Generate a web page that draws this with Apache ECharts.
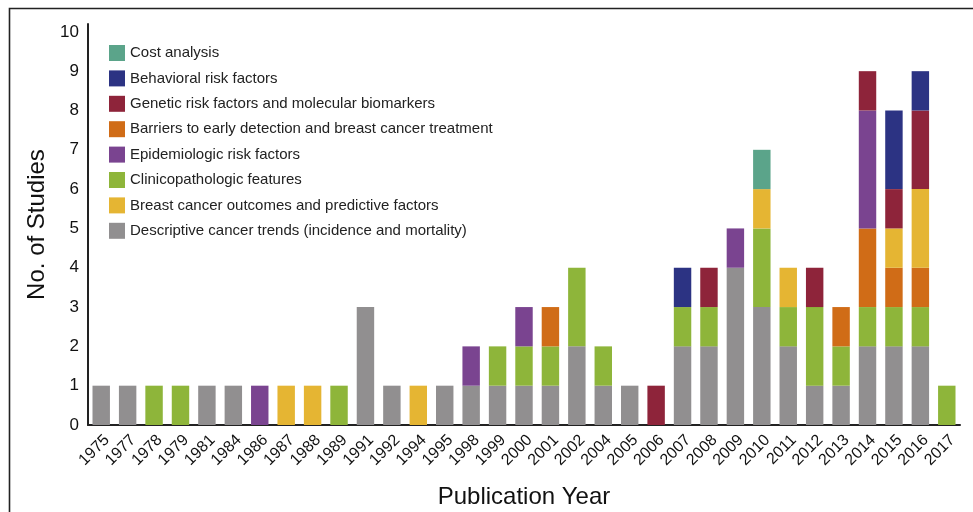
<!DOCTYPE html>
<html>
<head>
<meta charset="utf-8">
<style>
  html, body { margin: 0; padding: 0; background: #fff; }
  #chart { width: 973px; height: 512px; }
</style>
<script src="https://cdn.jsdelivr.net/npm/echarts@6/dist/echarts.min.js"></script>
</head>
<body>
<div id="chart"></div>
<script>
  // publication years (categories)
  var years = ["1975", "1977", "1978", "1979", "1981", "1984", "1986", "1987", "1988", "1989",
    "1991", "1992", "1994", "1995", "1998", "1999", "2000", "2001", "2002", "2004",
    "2005", "2006", "2007", "2008", "2009", "2010", "2011", "2012", "2013", "2014",
    "2015", "2016", "2017"];

  // number of studies per topic, bottom of stack first
  var descriptive = [1, 1, 0, 0, 1, 1, 0, 0, 0, 0, 3, 1, 0, 1, 1, 1, 1, 1, 2, 1, 1, 0, 2, 2, 4, 3, 2, 1, 1, 2, 2, 2, 0];
  var clinico = [0, 0, 1, 1, 0, 0, 0, 0, 0, 1, 0, 0, 0, 0, 0, 1, 1, 1, 2, 1, 0, 0, 1, 1, 0, 2, 1, 2, 1, 1, 1, 1, 1];
  var barriers = [0, 0, 0, 0, 0, 0, 0, 0, 0, 0, 0, 0, 0, 0, 0, 0, 0, 1, 0, 0, 0, 0, 0, 0, 0, 0, 0, 0, 1, 2, 1, 1, 0];
  var epidemio = [0, 0, 0, 0, 0, 0, 1, 0, 0, 0, 0, 0, 0, 0, 1, 0, 1, 0, 0, 0, 0, 0, 0, 0, 1, 0, 0, 0, 0, 3, 0, 0, 0];
  var outcomes = [0, 0, 0, 0, 0, 0, 0, 1, 1, 0, 0, 0, 1, 0, 0, 0, 0, 0, 0, 0, 0, 0, 0, 0, 0, 1, 1, 0, 0, 0, 1, 2, 0];
  var genetic = [0, 0, 0, 0, 0, 0, 0, 0, 0, 0, 0, 0, 0, 0, 0, 0, 0, 0, 0, 0, 0, 1, 0, 1, 0, 0, 0, 1, 0, 1, 1, 2, 0];
  var behavioral = [0, 0, 0, 0, 0, 0, 0, 0, 0, 0, 0, 0, 0, 0, 0, 0, 0, 0, 0, 0, 0, 0, 1, 0, 0, 0, 0, 0, 0, 0, 2, 1, 0];
  var cost = [0, 0, 0, 0, 0, 0, 0, 0, 0, 0, 0, 0, 0, 0, 0, 0, 0, 0, 0, 0, 0, 0, 0, 0, 0, 1, 0, 0, 0, 0, 0, 0, 0];

  var yTicks = [0, 1, 2, 3, 4, 5, 6, 7, 8, 9, 10];

  var font = "'Liberation Sans', Arial, sans-serif";

  var myChart = echarts.init(document.getElementById("chart"));

  function bar(name, data, color) {
    return {
      name: name,
      type: "bar",
      stack: "all",
      data: data,
      barWidth: "66%",
      itemStyle: { color: color }
    };
  }

  myChart.setOption({
    animation: false,
    textStyle: { fontFamily: font },
    graphic: [
      {
        type: "rect",
        shape: { x: 9.5, y: 8.5, width: 1100, height: 700 },
        style: { fill: "none", stroke: "#222", lineWidth: 1.6 },
        silent: true
      }
    ],
    legend: {
      orient: "vertical",
      left: 104,
      top: 40,
      itemWidth: 16,
      itemHeight: 16,
      itemGap: 9.4,
      icon: "rect",
      textStyle: { fontSize: 15, color: "#222", fontFamily: font },
      data: [
        "Cost analysis",
        "Behavioral risk factors",
        "Genetic risk factors and molecular biomarkers",
        "Barriers to early detection and breast cancer treatment",
        "Epidemiologic risk factors",
        "Clinicopathologic features",
        "Breast cancer outcomes and predictive factors",
        "Descriptive cancer trends (incidence and mortality)"
      ]
    },
    grid: {
      left: 88,
      width: 872,
      top: 24,
      bottom: 87,
      outerBoundsMode: "none",
      containLabel: false
    },
    xAxis: {
      type: "category",
      data: years,
      name: "Publication Year",
      nameLocation: "middle",
      nameGap: 60,
      nameTextStyle: { fontSize: 24, color: "#111", fontFamily: font },
      axisLine: { lineStyle: { color: "#222", width: 2 } },
      axisTick: { show: false },
      axisLabel: {
        interval: 0,
        rotate: 45,
        margin: 7,
        fontSize: 16,
        color: "#111",
        verticalAlign: "top"
      }
    },
    yAxis: {
      type: "value",
      min: 0,
      max: 10.2,
      interval: 1,
      name: "No. of Studies",
      nameLocation: "middle",
      nameGap: 36,
      nameTextStyle: { fontSize: 24, color: "#111", fontFamily: font },
      axisLine: { show: true, lineStyle: { color: "#222", width: 2 } },
      axisTick: { show: false },
      splitLine: { show: false },
      axisLabel: {
        margin: 9,
        fontSize: 17,
        color: "#111",
        formatter: function (v) {
          return yTicks.indexOf(v) >= 0 ? String(v) : "";
        }
      }
    },
    series: [
      bar("Descriptive cancer trends (incidence and mortality)", descriptive, "#918F90"),
      bar("Clinicopathologic features", clinico, "#8EB53A"),
      bar("Barriers to early detection and breast cancer treatment", barriers, "#D06C17"),
      bar("Epidemiologic risk factors", epidemio, "#7A4490"),
      bar("Breast cancer outcomes and predictive factors", outcomes, "#E5B533"),
      bar("Genetic risk factors and molecular biomarkers", genetic, "#8E243A"),
      bar("Behavioral risk factors", behavioral, "#2C3383"),
      bar("Cost analysis", cost, "#5BA48A")
    ]
  });
</script>
</body>
</html>
